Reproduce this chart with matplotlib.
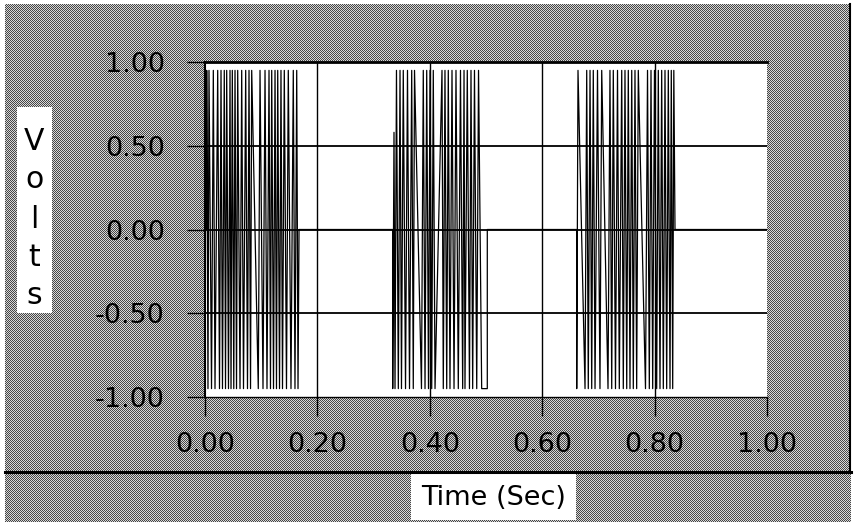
import matplotlib
matplotlib.use("Agg")
import numpy as np
import matplotlib.pyplot as plt
from matplotlib.patches import Rectangle

# Sample times (s) and levels (V) of the three signal bursts, joined by
# straight segments; the trace rests at 0 V between bursts.
burst1_t = [0.0030, 0.0030, 0.0053, 0.0071, 0.0116, 0.0148, 0.0178, 0.0226,
            0.0258, 0.0285, 0.0311, 0.0343, 0.0365, 0.0386, 0.0418, 0.0445,
            0.0463, 0.0486, 0.0512, 0.0534, 0.0561, 0.0582, 0.0623, 0.0653,
            0.0685, 0.0724, 0.0756, 0.0783, 0.0810, 0.0831, 0.0948, 0.0979,
            0.1032, 0.1068, 0.1103, 0.1139, 0.1165, 0.1187, 0.1219, 0.1246,
            0.1272, 0.1294, 0.1326, 0.1352, 0.1379, 0.1411, 0.1450, 0.1482,
            0.1530, 0.1571, 0.1601, 0.1632, 0.1655, 0.1673]
burst1_v = [0.0, 0.95, -0.95, 0.95, -0.95, 0.95, -0.95, 0.95,
            -0.95, 0.95, -0.95, 0.95, -0.95, 0.95, -0.95, 0.95,
            -0.95, 0.95, -0.95, 0.95, -0.95, 0.95, -0.95, 0.95,
            -0.95, 0.95, -0.95, 0.95, -0.95, 0.95, -0.95, 0.95,
            -0.95, 0.95, -0.95, 0.95, -0.95, 0.95, -0.95, 0.95,
            -0.95, 0.95, -0.95, 0.95, -0.95, 0.95, -0.95, 0.95,
            -0.95, 0.95, -0.95, 0.95, -0.95, 0.0]

burst2_t = [0.3340, 0.3340, 0.3363, 0.3381, 0.3407, 0.3440, 0.3470, 0.3496,
            0.3528, 0.3568, 0.3603, 0.3639, 0.3678, 0.3706, 0.3728, 0.3852,
            0.3884, 0.3915, 0.3945, 0.3977, 0.4004, 0.4034, 0.4062, 0.4093,
            0.4217, 0.4240, 0.4270, 0.4301, 0.4329, 0.4359, 0.4395, 0.4431,
            0.4466, 0.4507, 0.4546, 0.4585, 0.4609, 0.4626, 0.4667, 0.4706,
            0.4733, 0.4763, 0.4795, 0.4835, 0.4867, 0.4923, 0.5023, 0.5023]
burst2_v = [0.0, -0.95, 0.58, -0.95, 0.95, -0.95, 0.95, -0.95,
            0.95, -0.95, 0.95, -0.95, 0.95, -0.95, 0.95, -0.95,
            0.95, -0.95, 0.95, -0.95, 0.95, -0.95, 0.95, -0.95,
            0.95, -0.95, 0.95, -0.95, 0.95, -0.95, 0.95, -0.95,
            0.95, -0.95, 0.95, -0.95, 0.95, -0.95, 0.95, -0.95,
            0.95, -0.95, 0.95, -0.95, 0.95, -0.95, -0.95, 0.0]

burst3_t = [0.6614, 0.6614, 0.6637, 0.6762, 0.6792, 0.6820, 0.6851, 0.6881,
            0.6909, 0.6940, 0.6984, 0.7028, 0.7059, 0.7171, 0.7206, 0.7237,
            0.7265, 0.7304, 0.7340, 0.7372, 0.7415, 0.7443, 0.7473, 0.7504,
            0.7532, 0.7562, 0.7593, 0.7621, 0.7651, 0.7681, 0.7710, 0.7838,
            0.7874, 0.7906, 0.7936, 0.7966, 0.7998, 0.8037, 0.8066, 0.8096,
            0.8126, 0.8155, 0.8185, 0.8215, 0.8244, 0.8274, 0.8297, 0.8322,
            0.8342, 0.8363]
burst3_v = [0.0, -0.95, 0.95, -0.95, 0.95, -0.95, 0.95, -0.95,
            0.95, -0.95, 0.95, -0.95, 0.95, -0.95, 0.95, -0.95,
            0.95, -0.95, 0.95, -0.95, 0.95, -0.95, 0.95, -0.95,
            0.95, -0.95, 0.95, -0.95, 0.95, -0.95, 0.95, -0.95,
            0.95, -0.95, 0.95, -0.95, 0.95, -0.95, 0.95, -0.95,
            0.95, -0.95, 0.95, -0.95, 0.95, -0.95, 0.95, -0.95,
            0.95, 0.0]

x_ticks = [0.0, 0.2, 0.4, 0.6, 0.8, 1.0]
x_labels = ["0.00", "0.20", "0.40", "0.60", "0.80", "1.00"]
y_ticks = [-1.0, -0.5, 0.0, 0.5, 1.0]
y_labels = ["-1.00", "-0.50", "0.00", "0.50", "1.00"]

for bt, bv in [(burst1_t, burst1_v), (burst2_t, burst2_v), (burst3_t, burst3_v)]:
    assert len(bt) == len(bv)

time = [0.0] + burst1_t + burst2_t + burst3_t + [1.0]
volts = [0.0] + burst1_v + burst2_v + burst3_v + [0.0]

W, H = 855, 530
fig = plt.figure(figsize=(W / 100, H / 100), dpi=100, facecolor="white")

# halftone-style panel background
bg = np.full((H, W), 255, dtype=np.uint8)
yy, xx = np.mgrid[0:H, 0:W]
checker = np.where((xx + yy) % 2 == 0, 70, 215).astype(np.uint8)
inside = (xx >= 5) & (xx < 851) & (yy >= 4) & (yy < 522)
bg[inside] = checker[inside]
fig.figimage(bg, xo=0, yo=0, cmap="gray", vmin=0, vmax=255, origin="upper", zorder=-3)


def px_rect(x0, y0, x1, y1, **kw):
    fig.patches.append(Rectangle((x0 / W, 1 - y1 / H), (x1 - x0) / W, (y1 - y0) / H,
                                 transform=fig.transFigure, **kw))


fig.add_artist(plt.Line2D([5 / W, 851 / W], [1 - 472 / H] * 2, color="black", lw=2.2,
                          transform=fig.transFigure, zorder=1))
fig.add_artist(plt.Line2D([850 / W] * 2, [1 - 4 / H, 1 - 473 / H], color="black", lw=1.5,
                          transform=fig.transFigure, zorder=1))

# y label box
px_rect(17, 107, 52, 313, facecolor="white", edgecolor="none", zorder=-1)
for ch, yc in zip("Volts", [141, 180, 219, 257, 295]):
    fig.text(34.5 / W, 1 - yc / H, ch, ha="center", va="center", fontsize=21.5,
             color="black", zorder=3)

# x label box
px_rect(411, 474, 576, 520, facecolor="white", edgecolor="none", zorder=-1)
fig.text(494 / W, 1 - 498 / H, "Time (Sec)", ha="center", va="center",
         fontsize=19.5, color="black", zorder=3)

ax = fig.add_axes([205 / W, 1 - 397 / H, 562 / W, 335 / H], zorder=2)
ax.set_facecolor("white")
ax.plot(time, volts, color="black", lw=0.9, zorder=3)

ax.set_xlim(0, 1)
ax.set_ylim(-1, 1)
ax.set_xticks(x_ticks)
ax.set_xticklabels(x_labels)
ax.set_yticks(y_ticks)
ax.set_yticklabels(y_labels)
ax.tick_params(axis="x", direction="out", length=14, width=1, pad=11,
               labelsize=19.5, colors="black")
ax.tick_params(axis="y", direction="out", length=13, width=1, pad=16,
               labelsize=19.5, colors="black")

for v in [0.2, 0.4, 0.6, 0.8]:
    ax.axvline(v, color="black", lw=1.0, zorder=2)
for v in [-0.5, 0.0, 0.5]:
    ax.axhline(v, color="black", lw=1.3, zorder=2)

ax.spines["right"].set_visible(False)
ax.spines["top"].set_linewidth(2.0)
ax.spines["left"].set_linewidth(1.5)
ax.spines["bottom"].set_linewidth(1.0)

fig.savefig("out.png", dpi=100, facecolor=fig.get_facecolor())
